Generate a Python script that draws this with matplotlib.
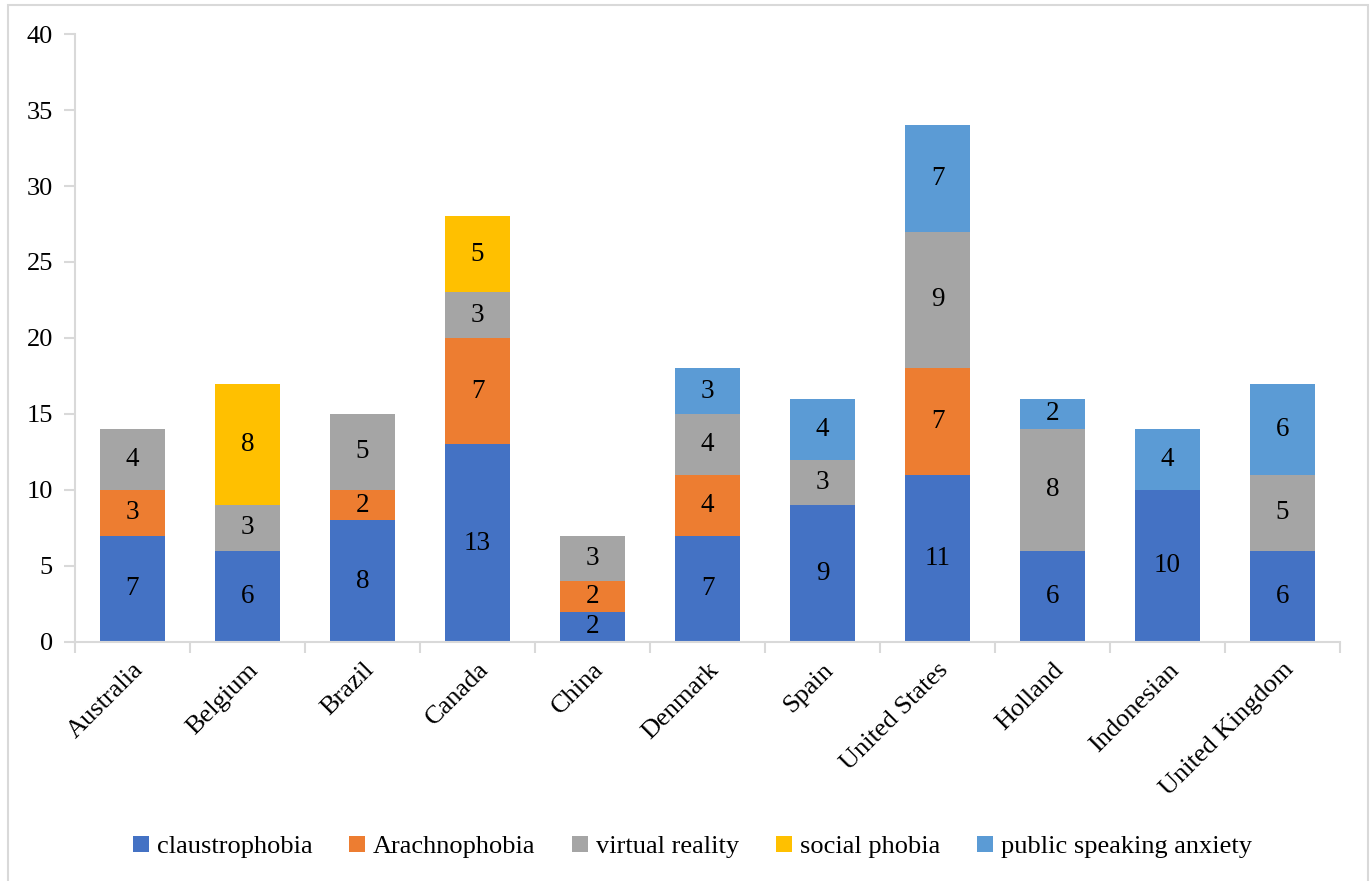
import matplotlib.pyplot as plt
import numpy as np
from matplotlib.patches import Rectangle

countries = ['Australia', 'Belgium', 'Brazil', 'Canada', 'China', 'Denmark',
             'Spain', 'United States', 'Holland', 'Indonesian', 'United Kingdom']
claustrophobia = [7, 6, 8, 13, 2, 7, 9, 11, 6, 10, 6]
arachnophobia = [3, 0, 2, 7, 2, 4, 0, 7, 0, 0, 0]
virtual_reality = [4, 3, 5, 3, 3, 4, 3, 9, 8, 0, 5]
social_phobia = [0, 8, 0, 5, 0, 0, 0, 0, 0, 0, 0]
public_speaking = [0, 0, 0, 0, 0, 3, 4, 7, 2, 4, 6]

series = [
    ('claustrophobia', claustrophobia, '#4472C4'),
    ('Arachnophobia', arachnophobia, '#ED7D31'),
    ('virtual reality', virtual_reality, '#A5A5A5'),
    ('social phobia', social_phobia, '#FFC000'),
    ('public speaking anxiety', public_speaking, '#5B9BD5'),
]

plt.rcParams['font.family'] = ['Liberation Serif', 'DejaVu Serif']
plt.rcParams['font.size'] = 19

fig = plt.figure(figsize=(13.71, 8.81), dpi=100)
ax = fig.add_axes([0.0547, 0.2713, 0.9227, 0.6901])

x = np.arange(len(countries))
bottom = np.zeros(len(countries))
for name, vals, color in series:
    vals = np.array(vals, dtype=float)
    bars = ax.bar(x, vals, 0.565, bottom=bottom, color=color, label=name)
    labels = [str(int(v)) if v > 0 else '' for v in vals]
    ax.bar_label(bars, labels=labels, label_type='center', fontsize=19.5)
    bottom += vals

ax.set_xlim(-0.5, len(countries) - 0.5)
ax.set_ylim(0, 40)
ax.set_yticks(range(0, 41, 5))

ax.set_xticks(x)
ax.set_xticklabels(countries, rotation=45, ha='right', va='top', rotation_mode='anchor')
ax.set_xticks(np.arange(-0.5, len(countries), 1), minor=True)
ax.tick_params(axis='x', which='major', length=0, pad=12)
ax.tick_params(axis='x', which='minor', length=8, color='#D9D9D9', width=1.5)
ax.tick_params(axis='y', length=8, color='#D9D9D9', width=1.5, pad=8)

for s in ['top', 'right']:
    ax.spines[s].set_visible(False)
for s in ['left', 'bottom']:
    ax.spines[s].set_color('#D9D9D9')
    ax.spines[s].set_linewidth(1.5)

fig.legend(loc='center', bbox_to_anchor=(0.505, 0.0386), ncol=5, frameon=False,
           handlelength=0.6, handleheight=0.6, handletextpad=0.3, columnspacing=1.4,
           fontsize=19)

fig.patches.append(Rectangle((8 / 1371, -0.01), 1360 / 1371, 1 - 5 / 881 + 0.01,
                             transform=fig.transFigure, fill=False,
                             edgecolor='#D9D9D9', linewidth=1.5))

fig.savefig('out.png', dpi=100)
